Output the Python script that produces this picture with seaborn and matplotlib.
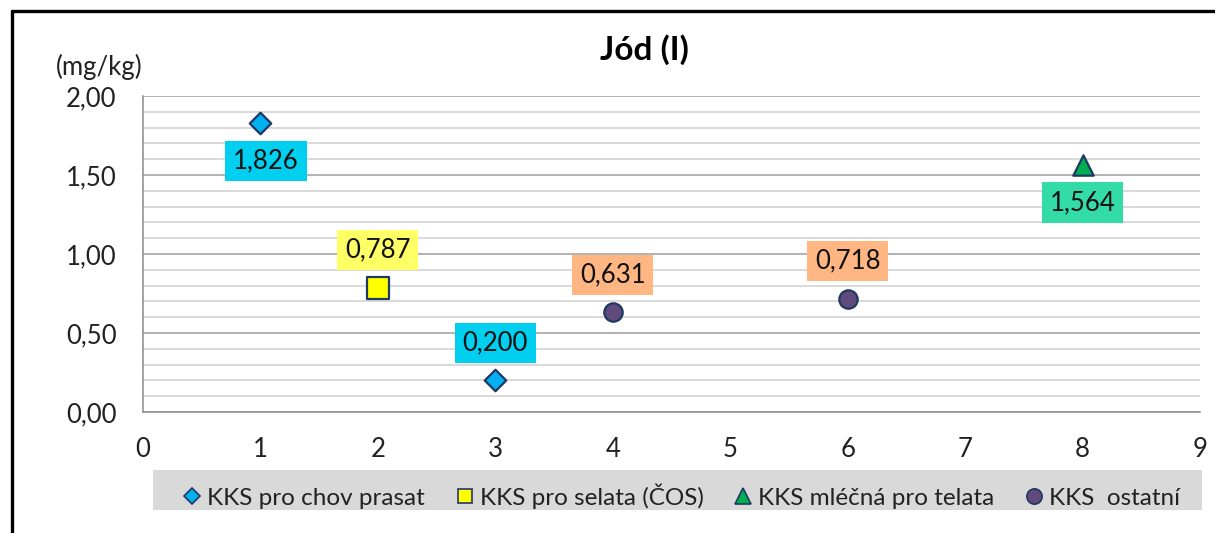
import matplotlib
matplotlib.use("Agg")
import matplotlib.pyplot as plt
import seaborn as sns
import pandas as pd
from matplotlib.lines import Line2D
from matplotlib.patches import Rectangle
from matplotlib.ticker import MultipleLocator, FuncFormatter

# --- data -------------------------------------------------------------
series_names = ["KKS pro chov prasat", "KKS pro selata (ČOS)",
                "KKS mléčná pro telata", "KKS  ostatní"]
prasat_x, prasat_y = [1, 3], [1.826, 0.200]
selata_x, selata_y = [2], [0.787]
telata_x, telata_y = [8], [1.564]
ostatni_x, ostatni_y = [4, 6], [0.631, 0.718]
x_ticks = [0, 1, 2, 3, 4, 5, 6, 7, 8, 9]
y_ticks = [0.0, 0.5, 1.0, 1.5, 2.0]

frames = []
for name, xs, ys in zip(series_names,
                        [prasat_x, selata_x, telata_x, ostatni_x],
                        [prasat_y, selata_y, telata_y, ostatni_y]):
    frames.append(pd.DataFrame({"x": xs, "y": ys, "series": name}))
df = pd.concat(frames, ignore_index=True)

# --- styling ------------------------------------------------------------
marker_map = dict(zip(series_names, ["D", "s", "^", "o"]))
fill_map = dict(zip(series_names, ["#00B0F0", "#FFFF00", "#00B050", "#604A7B"]))
size_map = dict(zip(series_names, [120, 230, 215, 175]))
label_bg = dict(zip(series_names, ["#00CFF0", "#FFFF66", "#33DBA6", "#FFB682"]))
edge = "#1F3864"

sns.set_theme(style="white")
plt.rcParams["font.family"] = ["Lato", "DejaVu Sans"]

W, H = 1215, 533
fig = plt.figure(figsize=(W / 100, H / 100), dpi=100)
ax = fig.add_axes([143 / W, 1 - 412 / H, (1200 - 143) / W, (412 - 96) / H])

for name in series_names:
    sub = df[df["series"] == name]
    sns.scatterplot(data=sub, x="x", y="y", marker=marker_map[name],
                    color=fill_map[name], s=size_map[name],
                    edgecolor=edge, linewidth=1.6, legend=False,
                    ax=ax, zorder=5, clip_on=False)

# value labels: upper points carry the label below, the rest above
for name in series_names:
    sub = df[df["series"] == name]
    for xv, yv in zip(sub["x"], sub["y"]):
        dy = -27 if yv > 1.5 else 27
        ax.annotate(f"{yv:.3f}".replace(".", ","), xy=(xv, yv),
                    xytext=(4 if xv == 1 else 0, dy), textcoords="offset points",
                    ha="center", va="center", fontsize=18.5, color="#111111",
                    bbox=dict(boxstyle="square,pad=0.3", fc=label_bg[name], ec="none"),
                    zorder=6)

ax.set_xlim(0, 9)
ax.set_ylim(0, 2)
ax.set_xticks(x_ticks)
ax.set_yticks(y_ticks)
ax.yaxis.set_minor_locator(MultipleLocator(0.1))
ax.yaxis.set_major_formatter(FuncFormatter(lambda v, p: f"{v:.2f}".replace(".", ",")))
ax.set_xlabel("")
ax.set_ylabel("")

ax.grid(False)
ax.yaxis.grid(True, which="minor", color="#D0D0D0", lw=1.1)
ax.yaxis.grid(True, which="major", color="#9E9E9E", lw=1.1)
ax.set_axisbelow(True)

for side in ["top", "right"]:
    ax.spines[side].set_visible(False)
for side in ["left", "bottom"]:
    ax.spines[side].set_color("#8C8C8C")
    ax.spines[side].set_linewidth(1.1)

ax.tick_params(which="major", direction="out", length=8, width=1.1,
               color="#8C8C8C", labelsize=18.5, labelcolor="#222222")
ax.tick_params(axis="y", which="major", pad=11)
ax.tick_params(axis="x", which="major", pad=10)
ax.tick_params(which="minor", length=0)

fig.text(644 / W, 1 - 50 / H, "Jód (I)", ha="center", va="center",
         fontsize=24, fontweight="bold", color="#000000")
fig.text(99 / W, 1 - 67 / H, "(mg/kg)", ha="center", va="center",
         fontsize=18.5, color="#222222")

# frame lines on the left and top
fig.add_artist(Line2D([12 / W, 12 / W], [0, 1 - 11 / H], transform=fig.transFigure,
                      color="black", lw=2.4))
fig.add_artist(Line2D([12 / W, 1], [1 - 11 / H, 1 - 11 / H], transform=fig.transFigure,
                      color="black", lw=2.4))

# legend strip
fig.add_artist(Rectangle((153 / W, 1 - 510 / H), (1202 - 153) / W, 40 / H,
                         transform=fig.transFigure, fc="#D9D9D9", ec="none", zorder=0))
leg_ms = dict(zip(series_names, [8, 10, 11, 11]))
handles = [Line2D([], [], ls="none", marker=marker_map[n], ms=leg_ms[n],
                  mfc=fill_map[n], mec=edge, mew=1.2) for n in series_names]
fig.legend(handles, series_names, loc="center", bbox_to_anchor=(682 / W, 1 - 496 / H),
           ncol=4, frameon=False, fontsize=17.5, handlelength=0.7,
           handletextpad=0.25, columnspacing=1.3, labelcolor="#222222")

fig.savefig("out.png", dpi=100)
